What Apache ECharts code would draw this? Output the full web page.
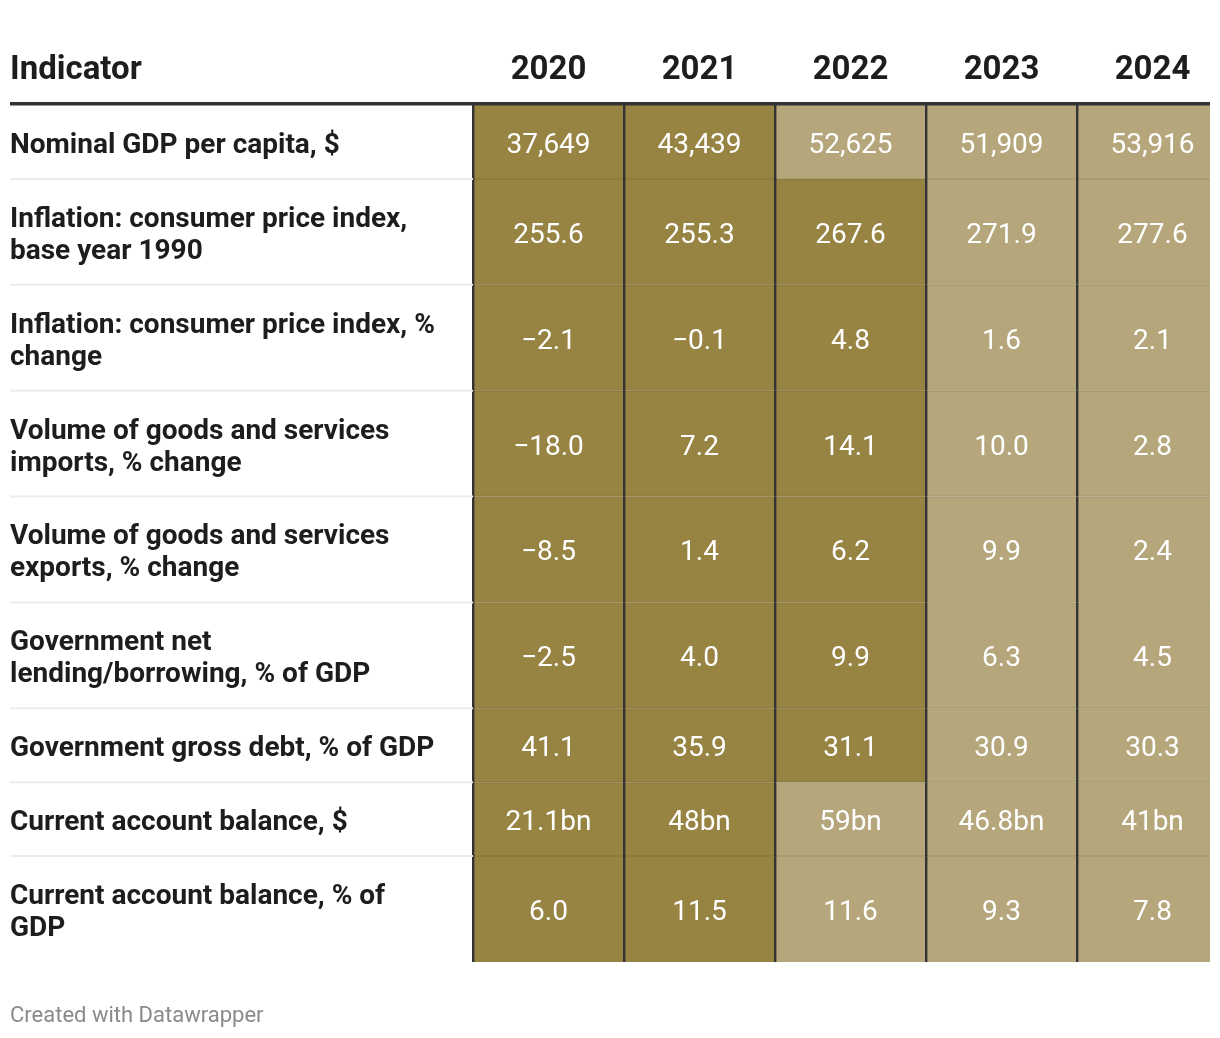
<!DOCTYPE html>
<html>
<head>
<meta charset="utf-8">
<script src="https://cdn.jsdelivr.net/npm/echarts@6/dist/echarts.min.js"></script>
<style>
html,body{margin:0;padding:0;background:#fff;}
#chart{width:1220px;height:1038px;}
</style>
</head>
<body>
<div id="chart"></div>
<script>
// ---- data ----
const years = ['2020', '2021', '2022', '2023', '2024'];
const indicators = [
  'Nominal GDP per capita, $',
  'Inflation: consumer price index,\nbase year 1990',
  'Inflation: consumer price index, %\nchange',
  'Volume of goods and services\nimports, % change',
  'Volume of goods and services\nexports, % change',
  'Government net\nlending/borrowing, % of GDP',
  'Government gross debt, % of GDP',
  'Current account balance, $',
  'Current account balance, % of\nGDP'
];
const gdpPerCapita   = [37649, 43439, 52625, 51909, 53916];
const cpiIndex       = [255.6, 255.3, 267.6, 271.9, 277.6];
const cpiChange      = [-2.1, -0.1, 4.8, 1.6, 2.1];
const importsChange  = [-18.0, 7.2, 14.1, 10.0, 2.8];
const exportsChange  = [-8.5, 1.4, 6.2, 9.9, 2.4];
const netLending     = [-2.5, 4.0, 9.9, 6.3, 4.5];
const grossDebt      = [41.1, 35.9, 31.1, 30.9, 30.3];
const currentAccBn   = [21.1, 48, 59, 46.8, 41];
const currentAccPct  = [6.0, 11.5, 11.6, 9.3, 7.8];
// number of years shown in the darker shade, per row
const darkCount      = [2, 3, 3, 3, 3, 3, 3, 2, 2];

const rows = [gdpPerCapita, cpiIndex, cpiChange, importsChange, exportsChange, netLending, grossDebt, currentAccBn, currentAccPct];
const rowFormat = ['thousands', 'dec1', 'dec1', 'dec1', 'dec1', 'dec1', 'dec1', 'bn', 'dec1'];

// ---- styling ----
const DARK = '#978443';
const LIGHT = '#b5a77b';
const FONT = 'Roboto, "Noto Sans", sans-serif';
const TY = 4; // vertical text nudge

function fmt(v, kind) {
  let s;
  if (kind === 'thousands') s = Math.abs(v).toLocaleString('en-US');
  else if (kind === 'bn') s = String(Math.abs(v)) + 'bn';
  else s = Math.abs(v).toFixed(1);
  return (v < 0 ? '\u2212' : '') + s;
}

// row heights derived from line count of label
const rowH = indicators.map(l => l.split('\n').length === 1 ? 74 : 106);
const rowStart = [];
let acc = 0;
rowH.forEach(h => { rowStart.push(acc); acc += h; });
const totalH = acc;

const cellData = [];
rows.forEach((vals, r) => {
  vals.forEach((v, c) => {
    cellData.push([c, r, v, c < darkCount[r] ? 1 : 0]);
  });
});
const labelData = indicators.map((l, r) => [0, r]);
const headerData = years.map((y, c) => [c, 0]);

const chart = echarts.init(document.getElementById('chart'));

chart.setOption({
  backgroundColor: '#fff',
  animation: false,
  grid: { left: 473, top: 105, width: 737, height: 857 },
  xAxis: { type: 'value', min: 0, max: 737 / 151, show: false },
  yAxis: { type: 'value', min: 0, max: totalH, inverse: true, show: false },
  graphic: [
    { type: 'rect', left: 10, top: 102, shape: { width: 1200, height: 3.5 }, style: { fill: '#333' }, z: 10 },
    { type: 'text', left: 10, top: 54, style: { text: 'Indicator', font: 'bold 33px ' + FONT, fill: '#1d1d1d' } },
    { type: 'text', left: 10, top: 1005, style: { text: 'Created with Datawrapper', font: '22px ' + FONT, fill: '#8a8a8a' } }
  ],
  series: [
    {
      type: 'custom',
      name: 'cells',
      data: cellData,
      clip: false,
      renderItem: function (params, api) {
        const c = api.value(0), r = api.value(1), v = api.value(2), dark = api.value(3);
        const p0 = api.coord([c, rowStart[r]]);
        const p1 = api.coord([c + 1, rowStart[r] + rowH[r]]);
        const cs = params.coordSys;
        const clipBox = { x: cs.x, y: cs.y, width: cs.width, height: cs.height };
        const rect = echarts.graphic.clipRectByRect({ x: p0[0], y: p0[1], width: p1[0] - p0[0], height: p1[1] - p0[1] }, clipBox);
        const children = [];
        if (rect) children.push({ type: 'rect', shape: rect, style: { fill: dark ? DARK : LIGHT } });
        if (r > 0) {
          const sep = echarts.graphic.clipRectByRect({ x: p0[0], y: p0[1] - 1, width: p1[0] - p0[0], height: 2 }, { x: cs.x, y: cs.y - 2, width: cs.width, height: cs.height + 2 });
          if (sep) children.push({ type: 'rect', shape: sep, style: { fill: 'rgba(0,0,0,0.07)' } });
        }
        children.push({ type: 'rect', shape: { x: p0[0] - 1, y: p0[1], width: 2.4, height: p1[1] - p0[1] }, style: { fill: '#333' } });
        children.push({
          type: 'text',
          x: (p0[0] + p1[0]) / 2, y: (p0[1] + p1[1]) / 2 + TY,
          style: { text: fmt(v, rowFormat[r]), font: '28px ' + FONT, fill: '#fff', align: 'center', verticalAlign: 'middle' }
        });
        return { type: 'group', children: children };
      }
    },
    {
      type: 'custom',
      name: 'labels',
      data: labelData,
      clip: false,
      renderItem: function (params, api) {
        const r = api.value(1);
        const top = api.coord([0, rowStart[r]]);
        const bot = api.coord([0, rowStart[r] + rowH[r]]);
        const children = [];
        if (r > 0) children.push({ type: 'rect', shape: { x: 10, y: top[1] - 1, width: top[0] - 10, height: 2 }, style: { fill: '#ececec' } });
        children.push({
          type: 'text', x: 10, y: (top[1] + bot[1]) / 2 + TY,
          style: { text: indicators[r], font: 'bold 28px ' + FONT, lineHeight: 32, fill: '#1d1d1d', align: 'left', verticalAlign: 'middle' }
        });
        return { type: 'group', children: children };
      }
    },
    {
      type: 'custom',
      name: 'header',
      data: headerData,
      clip: false,
      renderItem: function (params, api) {
        const c = api.value(0);
        const p = api.coord([c + 0.5, 0]);
        return {
          type: 'text', x: p[0], y: 67 + TY,
          style: { text: years[c], font: 'bold 33px ' + FONT, fill: '#1d1d1d', align: 'center', verticalAlign: 'middle' }
        };
      }
    }
  ]
});
</script>
</body>
</html>
